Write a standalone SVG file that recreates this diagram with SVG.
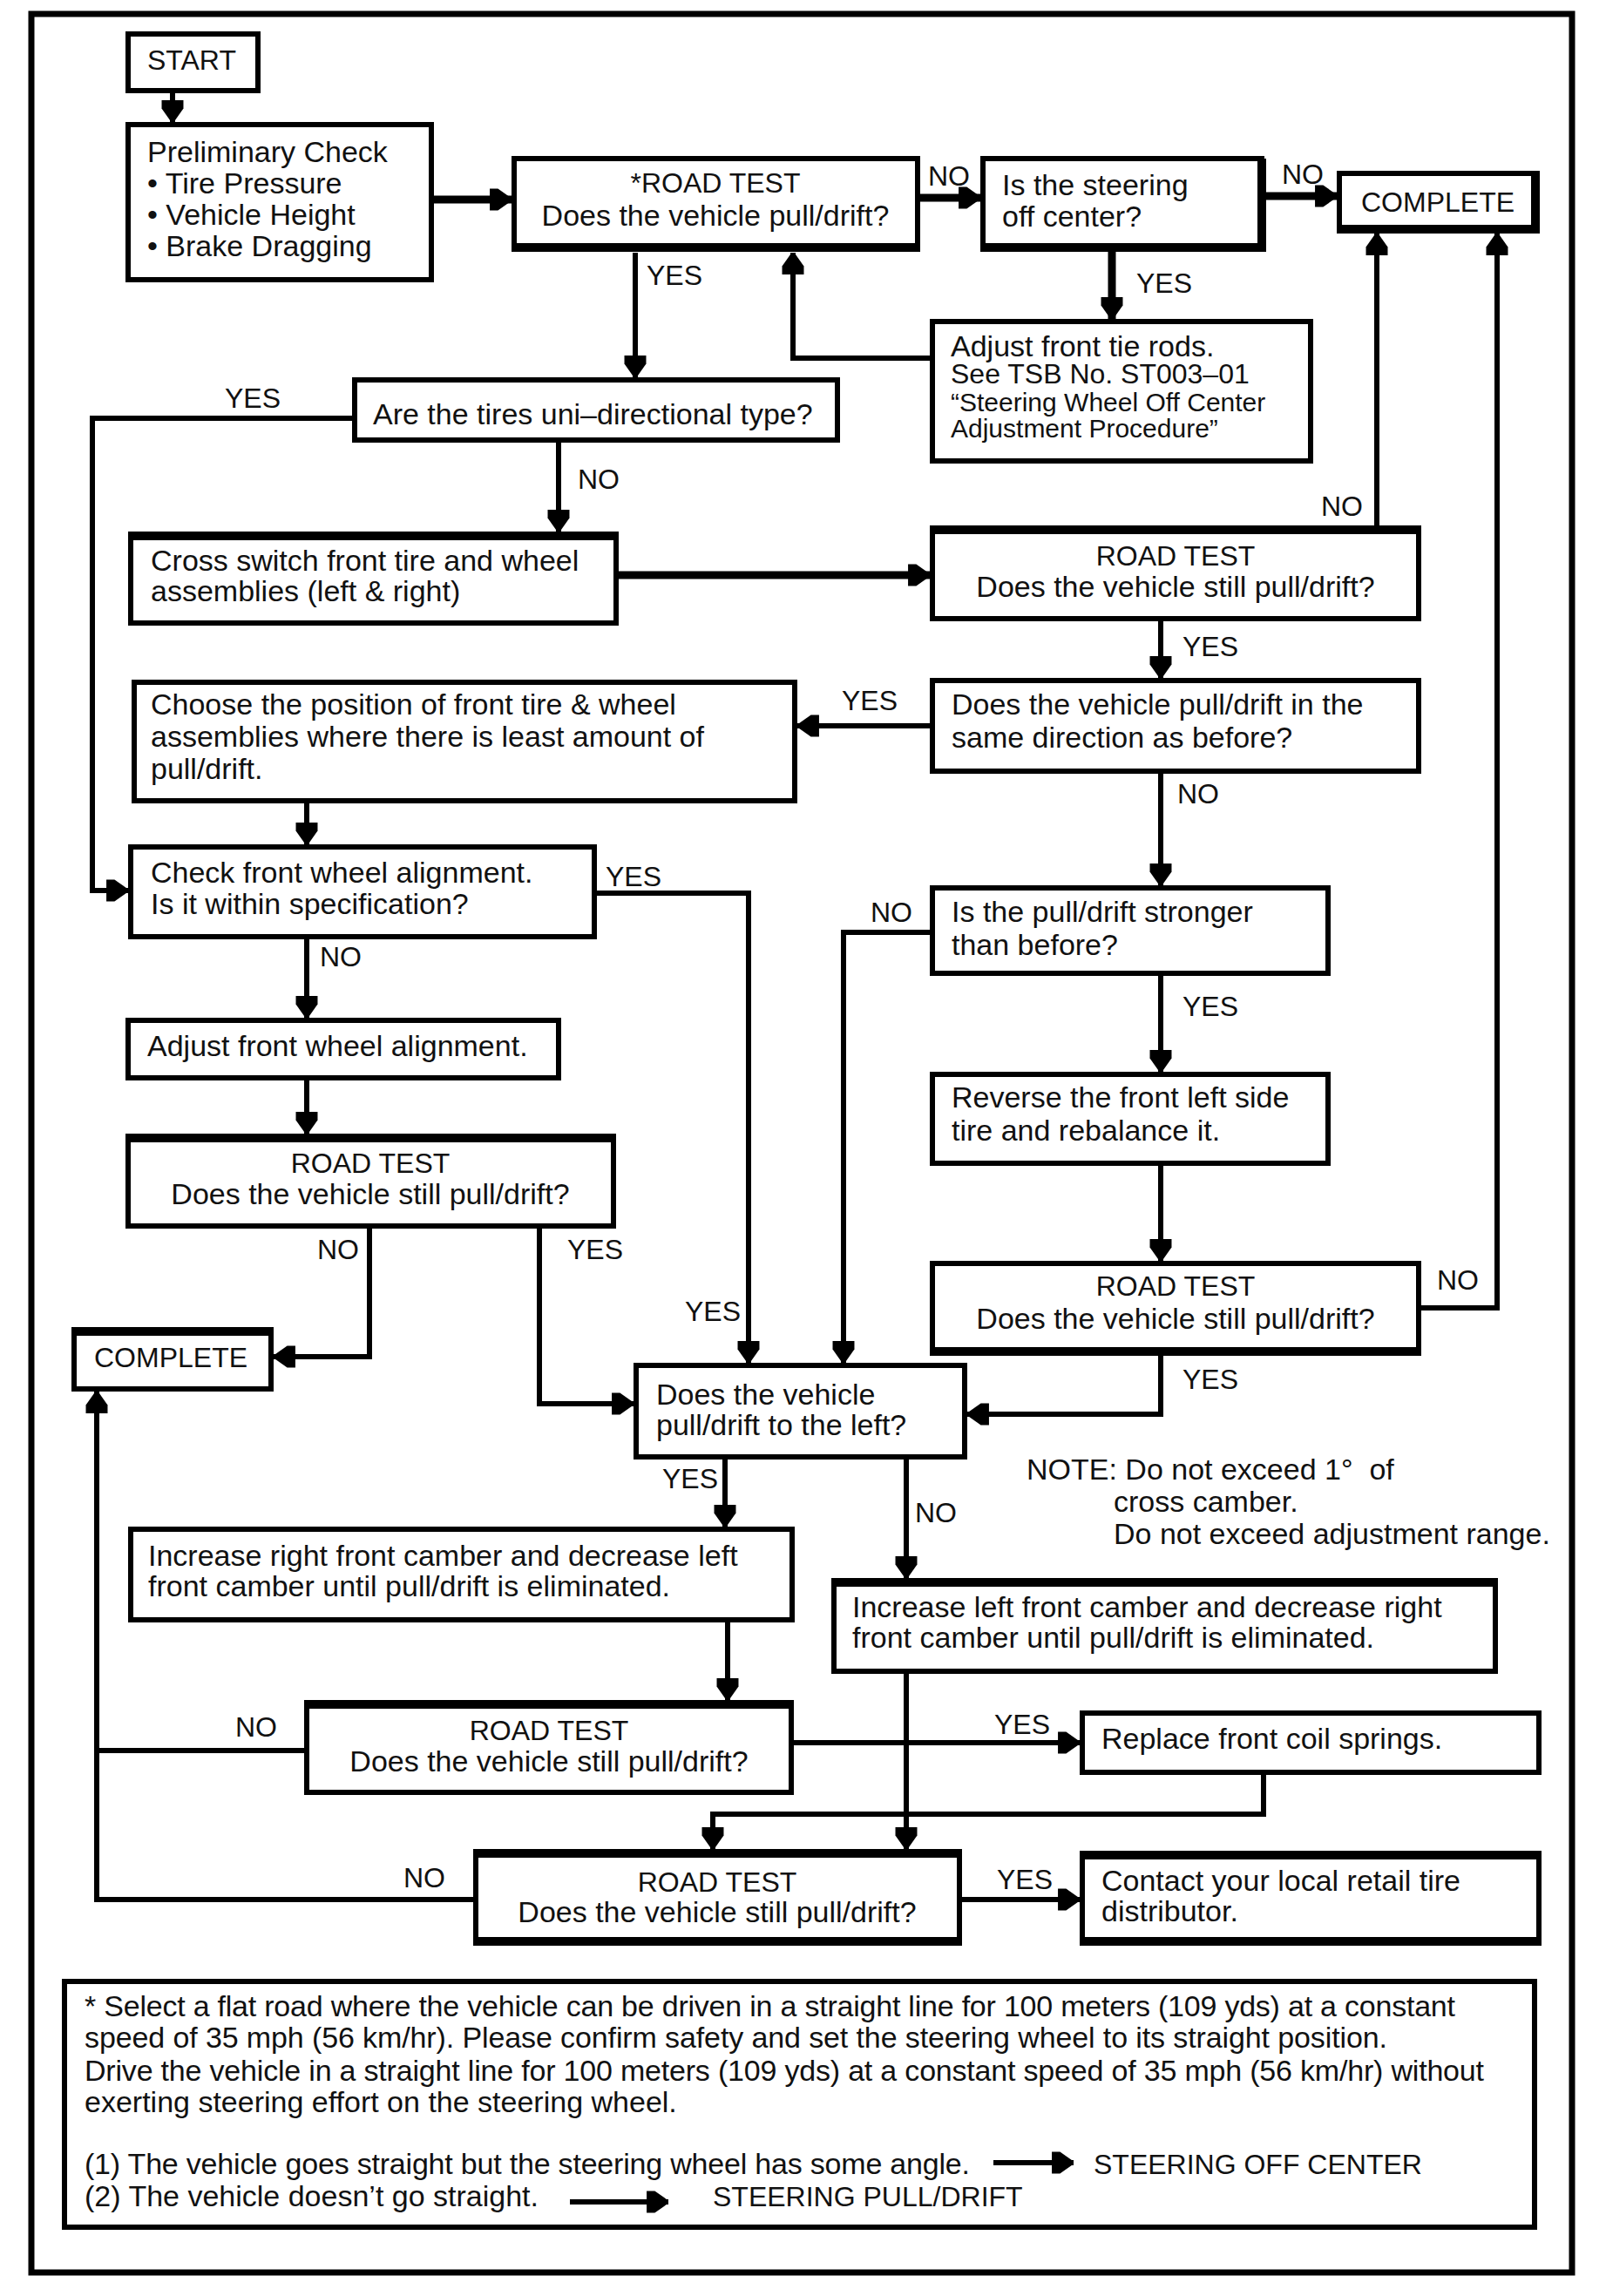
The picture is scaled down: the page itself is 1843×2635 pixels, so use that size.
<svg xmlns="http://www.w3.org/2000/svg" width="1843" height="2635" viewBox="0 0 1843 2635">
<style>
.bx{fill:#fff;stroke:#000;stroke-width:6}
.tk{stroke:#000;stroke-width:10;fill:none}
.t{font-family:"Liberation Sans",Arial,sans-serif;font-size:34px;fill:#111}
.u{font-family:"Liberation Sans",Arial,sans-serif;font-size:32px;fill:#111}
.sm{font-family:"Liberation Sans",Arial,sans-serif;font-size:30px;fill:#111}
.lbl{font-family:"Liberation Sans",Arial,sans-serif;font-size:32px;fill:#111}
.c{text-anchor:middle}
.cn{fill:none;stroke:#000;stroke-width:6;marker-end:url(#ah)}
.cn0{fill:none;stroke:#000;stroke-width:6}
.cnt{fill:none;stroke:#000;stroke-width:9;marker-end:url(#ah)}
</style>
<defs>
<marker id="ah" markerUnits="userSpaceOnUse" markerWidth="26" markerHeight="28" viewBox="0 -13 25 26" refX="24" refY="0" orient="auto">
<path d="M0,-12 L9,-12 L24,-1.5 L24,1.5 L9,12 L0,12 Z" fill="#000"/>
</marker>
</defs>
<rect x="0" y="0" width="1843" height="2635" fill="#fff"/>
<rect id="frame" x="36" y="16" width="1768" height="2592" fill="none" stroke="#000" stroke-width="7"/>

<g id="nodes">
<g id="n-start"><rect class="bx" x="147" y="39" width="149" height="65"/><text class="u" x="169" y="80">START</text></g>
<g id="n-prelim"><rect class="bx" x="147" y="143" width="348" height="178"/>
<text class="t" x="169" y="186">Preliminary Check</text>
<text class="t" x="169" y="222">• Tire Pressure</text>
<text class="t" x="169" y="258">• Vehicle Height</text>
<text class="t" x="169" y="294">• Brake Dragging</text></g>
<g id="n-rt1"><rect class="bx" x="590" y="182" width="463" height="104" stroke-width="7"/><path class="tk" d="M587,284 H1056"/>
<text class="u c" x="821" y="221">*ROAD TEST</text>
<text class="t c" x="821" y="259">Does the vehicle pull/drift?</text></g>
<g id="n-steer"><rect class="bx" x="1128" y="182" width="320" height="104"/><path class="tk" d="M1125,284 H1448 V182"/>
<text class="t" x="1150" y="224">Is the steering</text>
<text class="t" x="1150" y="260">off center?</text></g>
<g id="n-complete1"><rect class="bx" x="1537" y="199" width="227" height="66"/><path class="tk" d="M1534,263 H1762 V199"/>
<text class="u c" x="1650" y="243">COMPLETE</text></g>
<g id="n-tierods"><rect class="bx" x="1070" y="369" width="434" height="160"/>
<text class="t" x="1091" y="409">Adjust front tie rods.</text>
<text class="u" x="1091" y="440">See TSB No. ST003–01</text>
<text class="sm" x="1091" y="472">“Steering Wheel Off Center</text>
<text class="sm" x="1091" y="502">Adjustment Procedure”</text></g>
<g id="n-tires"><rect class="bx" x="407" y="436" width="554" height="69"/>
<text class="t" x="428" y="487">Are the tires uni–directional type?</text></g>
<g id="n-cross"><rect class="bx" x="150" y="613" width="557" height="102"/><path class="tk" d="M147,615 H710"/>
<text class="t" x="173" y="655">Cross switch front tire and wheel</text>
<text class="t" x="173" y="690">assemblies (left &amp; right)</text></g>
<g id="n-rt2"><rect class="bx" x="1070" y="606" width="558" height="104"/><path class="tk" d="M1067,608 H1631"/>
<text class="u c" x="1349" y="649">ROAD TEST</text>
<text class="t c" x="1349" y="685">Does the vehicle still pull/drift?</text></g>
<g id="n-choose"><rect class="bx" x="154" y="783" width="758" height="136"/>
<text class="t" x="173" y="820">Choose the position of front tire &amp; wheel</text>
<text class="t" x="173" y="857">assemblies where there is least amount of</text>
<text class="t" x="173" y="894">pull/drift.</text></g>
<g id="n-samedir"><rect class="bx" x="1070" y="781" width="558" height="104"/>
<text class="t" x="1092" y="820">Does the vehicle pull/drift in the</text>
<text class="t" x="1092" y="858">same direction as before?</text></g>
<g id="n-check"><rect class="bx" x="150" y="972" width="532" height="103"/>
<text class="t" x="173" y="1013">Check front wheel alignment.</text>
<text class="t" x="173" y="1049">Is it within specification?</text></g>
<g id="n-stronger"><rect class="bx" x="1070" y="1019" width="454" height="98"/>
<text class="t" x="1092" y="1058">Is the pull/drift stronger</text>
<text class="t" x="1092" y="1096">than before?</text></g>
<g id="n-adjust"><rect class="bx" x="147" y="1171" width="494" height="66"/>
<text class="t" x="169" y="1212">Adjust front wheel alignment.</text></g>
<g id="n-reverse"><rect class="bx" x="1070" y="1233" width="454" height="102"/>
<text class="t" x="1092" y="1271">Reverse the front left side</text>
<text class="t" x="1092" y="1309">tire and rebalance it.</text></g>
<g id="n-rt3"><rect class="bx" x="147" y="1304" width="557" height="103"/><path class="tk" d="M144,1306 H707"/>
<text class="u c" x="425" y="1346">ROAD TEST</text>
<text class="t c" x="425" y="1382">Does the vehicle still pull/drift?</text></g>
<g id="n-rt4"><rect class="bx" x="1070" y="1450" width="558" height="103"/><path class="tk" d="M1067,1551 H1631"/>
<text class="u c" x="1349" y="1487">ROAD TEST</text>
<text class="t c" x="1349" y="1525">Does the vehicle still pull/drift?</text></g>
<g id="n-complete2"><rect class="bx" x="85" y="1526" width="226" height="68"/><path class="tk" d="M82,1528 H314"/>
<text class="u c" x="196" y="1569">COMPLETE</text></g>
<g id="n-left"><rect class="bx" x="730" y="1567" width="377" height="105"/>
<text class="t" x="753" y="1612">Does the vehicle</text>
<text class="t" x="753" y="1647">pull/drift to the left?</text></g>
<g id="n-note">
<text class="t" x="1178" y="1698" font-size="33">NOTE: Do not exceed 1°&#160; of</text>
<text class="t" x="1278" y="1735" font-size="33">cross camber.</text>
<text class="t" x="1278" y="1772" font-size="33">Do not exceed adjustment range.</text></g>
<g id="n-incright"><rect class="bx" x="150" y="1755" width="759" height="104"/>
<text class="t" x="170" y="1797">Increase right front camber and decrease left</text>
<text class="t" x="170" y="1832">front camber until pull/drift is eliminated.</text></g>
<g id="n-incleft"><rect class="bx" x="957" y="1814" width="759" height="104"/><path class="tk" d="M954,1816 H1719"/>
<text class="t" x="978" y="1856">Increase left front camber and decrease right</text>
<text class="t" x="978" y="1891">front camber until pull/drift is eliminated.</text></g>
<g id="n-rt5"><rect class="bx" x="352" y="1954" width="556" height="103"/><path class="tk" d="M349,1956 H911"/>
<text class="u c" x="630" y="1997">ROAD TEST</text>
<text class="t c" x="630" y="2033">Does the vehicle still pull/drift?</text></g>
<g id="n-replace"><rect class="bx" x="1242" y="1966" width="524" height="68"/>
<text class="t" x="1264" y="2007">Replace front coil springs.</text></g>
<g id="n-rt6"><rect class="bx" x="546" y="2125" width="555" height="105"/><path class="tk" d="M543,2127 H1104 M543,2228 H1104"/>
<text class="u c" x="823" y="2171">ROAD TEST</text>
<text class="t c" x="823" y="2206">Does the vehicle still pull/drift?</text></g>
<g id="n-contact"><rect class="bx" x="1242" y="2127" width="524" height="103"/><path class="tk" d="M1239,2129 H1769 M1239,2228 H1769"/>
<text class="t" x="1264" y="2170">Contact your local retail tire</text>
<text class="t" x="1264" y="2205">distributor.</text></g>
<g id="n-footnote"><rect class="bx" x="74" y="2274" width="1687" height="282" stroke-width="7"/>
<text class="t" x="97" y="2314" textLength="1573">* Select a flat road where the vehicle can be driven in a straight line for 100 meters (109 yds) at a constant</text>
<text class="t" x="97" y="2350" textLength="1495">speed of 35 mph (56 km/hr). Please confirm safety and set the steering wheel to its straight position.</text>
<text class="t" x="97" y="2388" textLength="1606">Drive the vehicle in a straight line for 100 meters (109 yds) at a constant speed of 35 mph (56 km/hr) without</text>
<text class="t" x="97" y="2424">exerting steering effort on the steering wheel.</text>
<text class="t" x="97" y="2495" textLength="1016">(1) The vehicle goes straight but the steering wheel has some angle.</text>
<text class="t" x="97" y="2532">(2) The vehicle doesn’t go straight.</text>
<text class="u" x="1255" y="2495">STEERING OFF CENTER</text>
<text class="u" x="818" y="2532">STEERING PULL/DRIFT</text></g>
</g>

<g id="connectors">
<path class="cn" d="M198,107 V140"/>
<path class="cnt" d="M498,229 H587"/>
<path class="cnt" d="M1056,227 H1125"/>
<path class="cnt" d="M1453,225 H1534"/>
<path class="cnt" d="M1276,289 V366"/>
<path class="cn" d="M1067,411 H910 V290"/>
<path class="cn" d="M729,290 V433"/>
<path class="cn" d="M404,480 H106 V1022 H147"/>
<path class="cn" d="M641,508 V610"/>
<path class="cnt" d="M710,660 H1067"/>
<path class="cn" d="M1580,603 V268"/>
<path class="cn" d="M1332,713 V778"/>
<path class="cn" d="M1067,833 H915"/>
<path class="cn" d="M1332,888 V1016"/>
<path class="cn" d="M352,922 V969"/>
<path class="cn" d="M685,1025 H859 V1564"/>
<path class="cn" d="M352,1078 V1168"/>
<path class="cn" d="M352,1240 V1301"/>
<path class="cn" d="M424,1410 V1557 H314"/>
<path class="cn" d="M619,1410 V1611 H727"/>
<path class="cn" d="M1067,1070 H968 V1564"/>
<path class="cn" d="M1332,1120 V1230"/>
<path class="cn" d="M1332,1338 V1447"/>
<path class="cn" d="M1631,1501 H1718 V268"/>
<path class="cn" d="M1332,1556 V1623 H1110"/>
<path class="cn" d="M832,1675 V1752"/>
<path class="cn" d="M1040,1675 V1811"/>
<path class="cn" d="M835,1862 V1951"/>
<path class="cn" d="M911,2000 H1239"/>
<path class="cn0" d="M349,2009 H111"/>
<path class="cn" d="M1040,1921 V2122"/>
<path class="cn" d="M1450,2037 V2082 H818 V2122"/>
<path class="cn" d="M1104,2180 H1239"/>
<path class="cn" d="M543,2180 H111 V1597"/>
<path class="cn" d="M1140,2482 H1232"/>
<path class="cn" d="M654,2527 H767"/>
</g>

<g id="labels">
<text class="lbl" x="742" y="327">YES</text>
<text class="lbl" x="1065" y="213">NO</text>
<text class="lbl" x="1471" y="211">NO</text>
<text class="lbl" x="1304" y="336">YES</text>
<text class="lbl" x="258" y="468">YES</text>
<text class="lbl" x="663" y="561">NO</text>
<text class="lbl" x="1516" y="592">NO</text>
<text class="lbl" x="1357" y="753">YES</text>
<text class="lbl" x="966" y="815">YES</text>
<text class="lbl" x="1351" y="922">NO</text>
<text class="lbl" x="695" y="1017">YES</text>
<text class="lbl" x="999" y="1058">NO</text>
<text class="lbl" x="367" y="1109">NO</text>
<text class="lbl" x="1357" y="1166">YES</text>
<text class="lbl" x="364" y="1445">NO</text>
<text class="lbl" x="651" y="1445">YES</text>
<text class="lbl" x="1649" y="1480">NO</text>
<text class="lbl" x="786" y="1516">YES</text>
<text class="lbl" x="1357" y="1594">YES</text>
<text class="lbl" x="760" y="1708">YES</text>
<text class="lbl" x="1050" y="1747">NO</text>
<text class="lbl" x="270" y="1993">NO</text>
<text class="lbl" x="1141" y="1990">YES</text>
<text class="lbl" x="463" y="2166">NO</text>
<text class="lbl" x="1144" y="2168">YES</text>
</g>
</svg>
